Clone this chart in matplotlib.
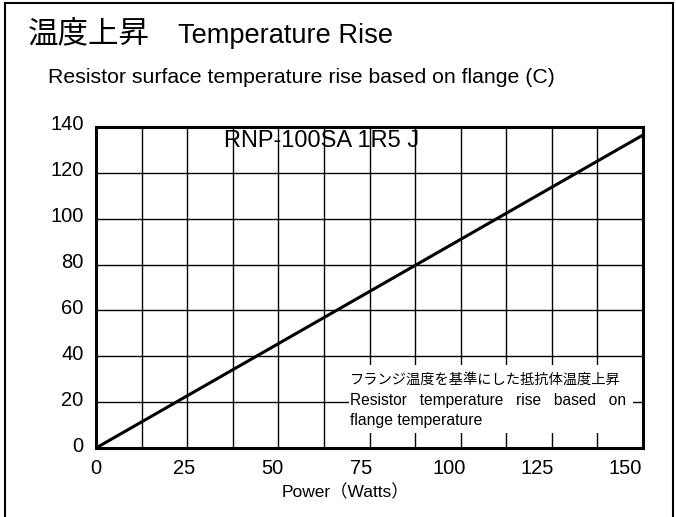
import numpy as np
import matplotlib
matplotlib.use("Agg")
import matplotlib.pyplot as plt
import matplotlib.transforms as mtransforms
from matplotlib.patches import Rectangle

plt.rcParams['font.family'] = ['Liberation Sans', 'Noto Sans CJK JP', 'DejaVu Sans']

# data
power = [0, 155]
temp_rise = [0, 136.5]

x_ticks = [0, 25, 50, 75, 100, 125, 150]
y_ticks = [0, 20, 40, 60, 80, 100, 120, 140]
x_max = 155
y_max = 140
n_xgrid = 12

title_jp = "温度上昇"
title_en = "Temperature Rise"
subtitle = "Resistor surface temperature rise based on flange (C)"
model = "RNP-100SA 1R5 J"
note_jp = "フランジ温度を基準にした抵抗体温度上昇"
note_en1 = "Resistor   temperature   rise   based   on"
note_en2 = "flange temperature"
xlabel = "Power（Watts）"

W, H = 676, 517
fig = plt.figure(figsize=(W/100, H/100), dpi=100)
ax = fig.add_axes([96/W, 1-448/H, (643-96)/W, (448-127)/H])

ax.plot(power, temp_rise, color='black', lw=2.2, zorder=3, solid_capstyle='butt')

ax.set_xlim(0, x_max)
ax.set_ylim(0, y_max)
ax.set_xticks(x_ticks)
ax.set_xticks(np.linspace(0, x_max, n_xgrid + 1), minor=True)
ax.set_yticks(y_ticks)
ax.tick_params(axis='both', which='both', length=0, labelsize=14.5)
ax.tick_params(axis='x', pad=8)
ax.tick_params(axis='y', pad=9)
ax.grid(False)
ax.xaxis.grid(True, which='minor', color='black', lw=1.0)
ax.yaxis.grid(True, which='major', color='black', lw=1.0)
for s in ax.spines.values():
    s.set_linewidth(2.2)
    s.set_zorder(4)

# y labels sit a little high in the original
off = mtransforms.ScaledTranslation(0, 4/100, fig.dpi_scale_trans)
for lab in ax.get_yticklabels():
    lab.set_transform(lab.get_transform() + off)

# model name
ax.text(322/W, 1-147/H, model, transform=fig.transFigure, ha='center',
        va='baseline', fontsize=17, zorder=5)

# white panel with the note
ax.add_patch(Rectangle((349/W, 1-433/H), (633-349)/W, (433-365)/H,
                       transform=fig.transFigure, facecolor='white',
                       edgecolor='none', zorder=2.5))
ax.text(350/W, 1-384/H, note_jp, transform=fig.transFigure, ha='left',
        va='baseline', fontsize=10.3, zorder=5,
        family=['Noto Sans CJK JP', 'DejaVu Sans'])
ax.text(350/W, 1-405/H, note_en1, transform=fig.transFigure, ha='left',
        va='baseline', fontsize=11.2, zorder=5)
ax.text(350/W, 1-425/H, note_en2, transform=fig.transFigure, ha='left',
        va='baseline', fontsize=11.3, zorder=5)

fig.text(28/W, 1-42/H, title_jp, ha='left', va='baseline', fontsize=22,
         family=['Noto Sans CJK JP', 'DejaVu Sans'])
fig.text(178/W, 1-43/H, title_en, ha='left', va='baseline', fontsize=19.6)
fig.text(48/W, 1-83/H, subtitle, ha='left', va='baseline', fontsize=15.3)
fig.text(282/W, 1-497/H, xlabel, ha='left', va='baseline', fontsize=12.5)

fig.patches.append(Rectangle((5/W, -0.05), (673-5)/W, 1.05 - 3/H,
                             transform=fig.transFigure, fill=False,
                             edgecolor='black', lw=1.5))

fig.savefig("out.png", dpi=100)
